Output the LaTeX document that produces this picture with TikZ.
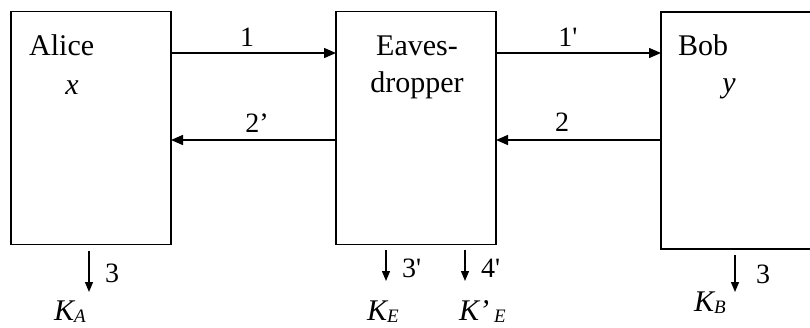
\documentclass[tikz,border=0pt]{standalone}
\usepackage{fontspec}
\setmainfont{Liberation Serif}
\usetikzlibrary{arrows.meta}
\newcommand{\lowsub}[1]{\raisebox{-2pt}{\fontsize{19}{19}\selectfont\itshape #1}}
\newcommand{\sq}{\textquotesingle}
\begin{document}
\begin{tikzpicture}[x=1pt,y=-1pt,
  party/.style={draw,line width=1.4pt,inner sep=0pt,outer sep=0pt},
  conn/.style={line width=1.4pt,-{Triangle[length=12pt,width=10pt]}},
  down/.style={line width=1.3pt,-{Triangle[length=10pt,width=8pt]}},
  big/.style={inner sep=0pt,anchor=base,font=\fontsize{30}{36}\selectfont},
  lab/.style={inner sep=0pt,anchor=base,font=\fontsize{28}{34}\selectfont},
  key/.style={inner sep=0pt,anchor=base west,font=\fontsize{30}{36}\selectfont\itshape}]
\useasboundingbox (0,0) rectangle (810,327);
\clip (0,0) rectangle (810,327);
% boxes
\node[party,minimum width=160pt,minimum height=233pt] (alice) at (91,128) {};
\node[party,minimum width=160pt,minimum height=233pt] (eve) at (416,128) {};
\node[party,minimum width=169pt,minimum height=237pt] (bob) at (745.5,130.5) {};
% box texts
\node[big,anchor=base west] (talice) at (29,55) {Alice};
\node[big] (tx) at (72,94) {\itshape x};
\node[big] (teve1) at (417,55) {Eaves-};
\node[big] (teve2) at (417,92) {dropper};
\node[big,anchor=base west] (tbob) at (678,55) {Bob};
\node[big] (ty) at (729,92) {\itshape y};
% channel arrows
\coordinate (r1) at (0,53);
\coordinate (r2) at (0,140);
\draw[conn] (alice.east |- r1) -- (eve.west |- r1);
\draw[conn] (eve.west |- r2) -- (alice.east |- r2);
\draw[conn] (eve.east |- r1) -- (bob.west |- r1);
\draw[conn] (bob.west |- r2) -- (eve.east |- r2);
\node[lab] (l1) at (247,46) {1};
\node[lab] (l2p) at (257,132) {2’};
\node[lab] (l1p) at (568,46) {1\sq};
\node[lab] (l2) at (562,131) {2};
% key outputs
\coordinate (da1) at (89,251);  \coordinate (da2) at (89,292);
\coordinate (de1) at (386,250); \coordinate (de2) at (386,281);
\coordinate (df1) at (465,250); \coordinate (df2) at (465,281);
\coordinate (db1) at (735,255); \coordinate (db2) at (735,292);
\draw[down] (da1) -- (da2);
\draw[down] (de1) -- (de2);
\draw[down] (df1) -- (df2);
\draw[down] (db1) -- (db2);
\node[lab,anchor=base west] (n3a) at (105,282) {3};
\node[lab,anchor=base west] (n3e) at (402,277) {3\sq};
\node[lab,anchor=base west] (n4e) at (481,277) {4\sq};
\node[lab,anchor=base west] (n3b) at (756,283) {3};
\node[key] (ka) at (54,320) {K\lowsub{A}};
\node[key] (ke) at (367,320) {K\lowsub{E}};
\node[key] (kpe) at (459,320) {K’\,\lowsub{E}};
\node[key] (kb) at (694,311) {K\lowsub{B}};
\end{tikzpicture}
\end{document}
